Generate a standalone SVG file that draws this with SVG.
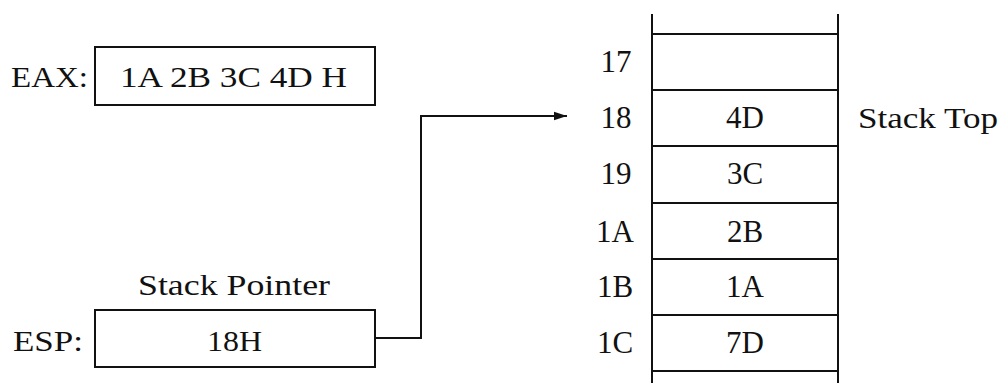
<svg xmlns="http://www.w3.org/2000/svg" width="1004" height="383" viewBox="0 0 1004 383">
<defs>
<marker id="ah" markerWidth="14" markerHeight="10" refX="13" refY="5" orient="auto" markerUnits="userSpaceOnUse">
<path d="M0,0.8 L13,5 L0,9.2 Z" fill="#111"/>
</marker>
</defs>
<rect width="1004" height="383" fill="#fff"/>
<g id="eax">
<rect x="95" y="47" width="280" height="58" fill="none" stroke="#111" stroke-width="2"/>
<text font-family="Liberation Serif" font-size="30" fill="#111" x="11" y="87" textLength="77" lengthAdjust="spacingAndGlyphs">EAX:</text>
<text font-family="Liberation Serif" font-size="30" fill="#111" x="120" y="87" textLength="227" lengthAdjust="spacingAndGlyphs">1A 2B 3C 4D H</text>
</g>
<g id="esp">
<rect x="95" y="310" width="280" height="57" fill="none" stroke="#111" stroke-width="2"/>
<text font-family="Liberation Serif" font-size="30" fill="#111" x="138" y="295" textLength="192" lengthAdjust="spacingAndGlyphs">Stack Pointer</text>
<text font-family="Liberation Serif" font-size="30" fill="#111" x="13" y="351" textLength="70" lengthAdjust="spacingAndGlyphs">ESP:</text>
<text font-family="Liberation Serif" font-size="30" fill="#111" x="207" y="351" textLength="55" lengthAdjust="spacingAndGlyphs">18H</text>
</g>
<g id="stack">
<g stroke="#111" stroke-width="2" fill="none">
<line x1="652" y1="14" x2="652" y2="383"/>
<line x1="838" y1="14" x2="838" y2="383"/>
<line x1="652" y1="34" x2="838" y2="34"/>
<line x1="652" y1="90" x2="838" y2="90"/>
<line x1="652" y1="146" x2="838" y2="146"/>
<line x1="652" y1="203" x2="838" y2="203"/>
<line x1="652" y1="259" x2="838" y2="259"/>
<line x1="652" y1="315" x2="838" y2="315"/>
<line x1="652" y1="371" x2="838" y2="371"/>
</g>
<text font-family="Liberation Serif" font-size="31" fill="#111" text-anchor="middle" x="616" y="72">17</text>
<text font-family="Liberation Serif" font-size="31" fill="#111" text-anchor="middle" x="616" y="128">18</text>
<text font-family="Liberation Serif" font-size="31" fill="#111" text-anchor="middle" x="616" y="184">19</text>
<text font-family="Liberation Serif" font-size="31" fill="#111" text-anchor="middle" x="615" y="242">1A</text>
<text font-family="Liberation Serif" font-size="31" fill="#111" text-anchor="middle" x="615" y="297">1B</text>
<text font-family="Liberation Serif" font-size="31" fill="#111" text-anchor="middle" x="615" y="353">1C</text>
<text font-family="Liberation Serif" font-size="31" fill="#111" text-anchor="middle" x="745" y="128">4D</text>
<text font-family="Liberation Serif" font-size="31" fill="#111" text-anchor="middle" x="745" y="184">3C</text>
<text font-family="Liberation Serif" font-size="31" fill="#111" text-anchor="middle" x="745" y="242">2B</text>
<text font-family="Liberation Serif" font-size="31" fill="#111" text-anchor="middle" x="745" y="297">1A</text>
<text font-family="Liberation Serif" font-size="31" fill="#111" text-anchor="middle" x="745" y="353">7D</text>
<text font-family="Liberation Serif" font-size="30" fill="#111" x="858" y="128" textLength="140" lengthAdjust="spacingAndGlyphs">Stack Top</text>
</g>
<g id="connectors">
<path d="M375,338 H421 V116 H567" fill="none" stroke="#111" stroke-width="2" marker-end="url(#ah)"/>
</g>
</svg>
